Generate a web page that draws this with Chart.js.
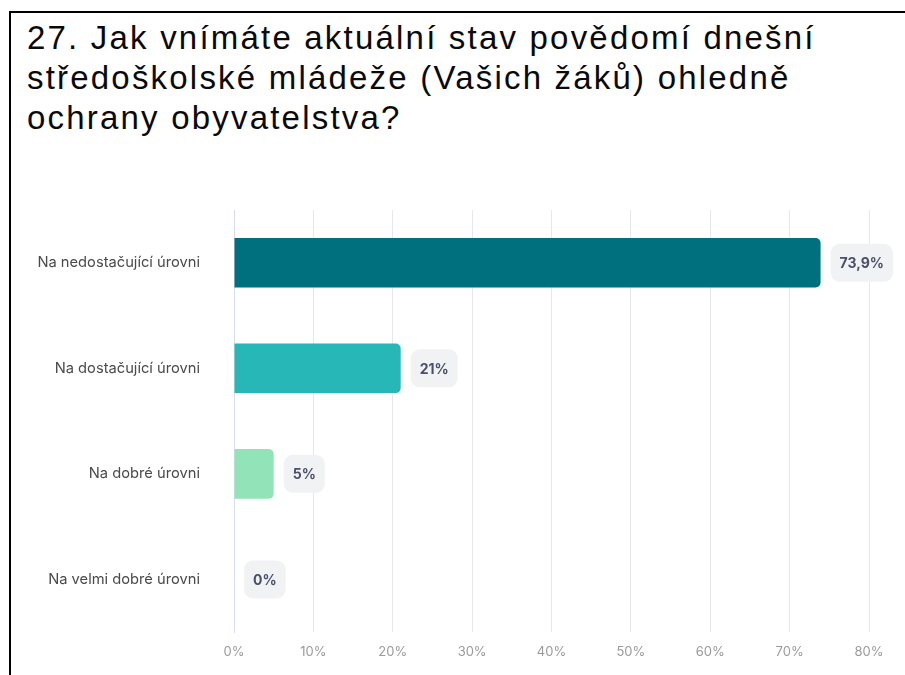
<!DOCTYPE html>
<html>
<head>
<meta charset="utf-8">
<script src="https://cdn.jsdelivr.net/npm/chart.js@4"></script>
<style>
  html, body { margin: 0; padding: 0; background: #fff; }
  #wrap { position: relative; width: 905px; height: 675px; overflow: hidden; }
  #frame { position: absolute; left: 9px; top: 11px; width: 900px; height: 700px;
           border-top: 2px solid #000; border-left: 2px solid #000; }
  #title { position: absolute; left: 27px; top: 18px; width: 875px;
           font-family: "Liberation Sans", Arial, sans-serif; font-size: 33px;
           letter-spacing: 2.2px; line-height: 40px; color: #0a0a0a; white-space: nowrap; }
  canvas { position: absolute; left: 0; top: 0; }
</style>
</head>
<body>
<div id="wrap">
  <div id="frame"></div>
  <div id="title">27. Jak vnímáte aktuální stav povědomí dnešní<br>středoškolské mládeže (Vašich žáků) ohledně<br>ochrany obyvatelstva?</div>
  <canvas id="chart" width="905" height="675"></canvas>
</div>
<script>
const categories = ['Na nedostačující úrovni', 'Na dostačující úrovni', 'Na dobré úrovni', 'Na velmi dobré úrovni'];
const values = [73.9, 21, 5, 0];
const valueLabels = ['73,9%', '21%', '5%', '0%'];
const barColors = ['#006f7e', '#26b7b6', '#93e3b9', '#93e3b9'];
const xTicks = [0, 10, 20, 30, 40, 50, 60, 70, 80];

// grey pill with value next to each bar
const pillLabels = {
    id: 'pillLabels',
    afterDatasetsDraw(chart) {
        const ctx = chart.ctx;
        const meta = chart.getDatasetMeta(0);
        ctx.save();
        ctx.font = 'bold 14px Inter, sans-serif';
        ctx.textBaseline = 'middle';
        ctx.textAlign = 'center';
        meta.data.forEach(function(bar, i) {
            const text = valueLabels[i];
            const w = ctx.measureText(text).width + 18;
            const h = 38;
            const x = bar.x + 10;
            const y = bar.y - h / 2;
            ctx.fillStyle = '#f1f2f3';
            ctx.beginPath();
            ctx.roundRect(x, y, w, h, 9);
            ctx.fill();
            ctx.fillStyle = '#4b5069';
            ctx.fillText(text, x + w / 2, bar.y + 1);
        });
        ctx.restore();
    }
};

const ctx = document.getElementById('chart').getContext('2d');
new Chart(ctx, {
    type: 'bar',
    data: {
        labels: categories,
        datasets: [{
            data: values,
            backgroundColor: barColors,
            borderRadius: 5,
            borderSkipped: 'start',
            barPercentage: 0.94,
            categoryPercentage: 0.5
        }]
    },
    options: {
        indexAxis: 'y',
        responsive: false,
        animation: false,
        layout: { padding: { top: 210, right: 36, bottom: 0, left: 0 } },
        plugins: {
            legend: { display: false },
            tooltip: { enabled: false }
        },
        scales: {
            x: {
                min: 0,
                max: 80,
                afterBuildTicks: function(scale) {
                    scale.ticks = xTicks.map(function(v) { return { value: v }; });
                },
                grid: { color: '#e6e7ea', drawTicks: false },
                border: { display: false },
                ticks: {
                    padding: 12,
                    color: '#9a9a9a',
                    font: { family: 'Inter', size: 13 },
                    callback: function(v) { return v + '%'; }
                }
            },
            y: {
                afterFit: function(scale) { scale.width = 234; },
                grid: { display: false, drawTicks: false },
                border: { display: true, color: '#d8dcef', width: 1 },
                ticks: {
                    padding: 34,
                    color: '#4a4a4a',
                    font: { family: 'Inter', size: 14.7 }
                }
            }
        }
    },
    plugins: [pillLabels]
});
</script>
</body>
</html>
